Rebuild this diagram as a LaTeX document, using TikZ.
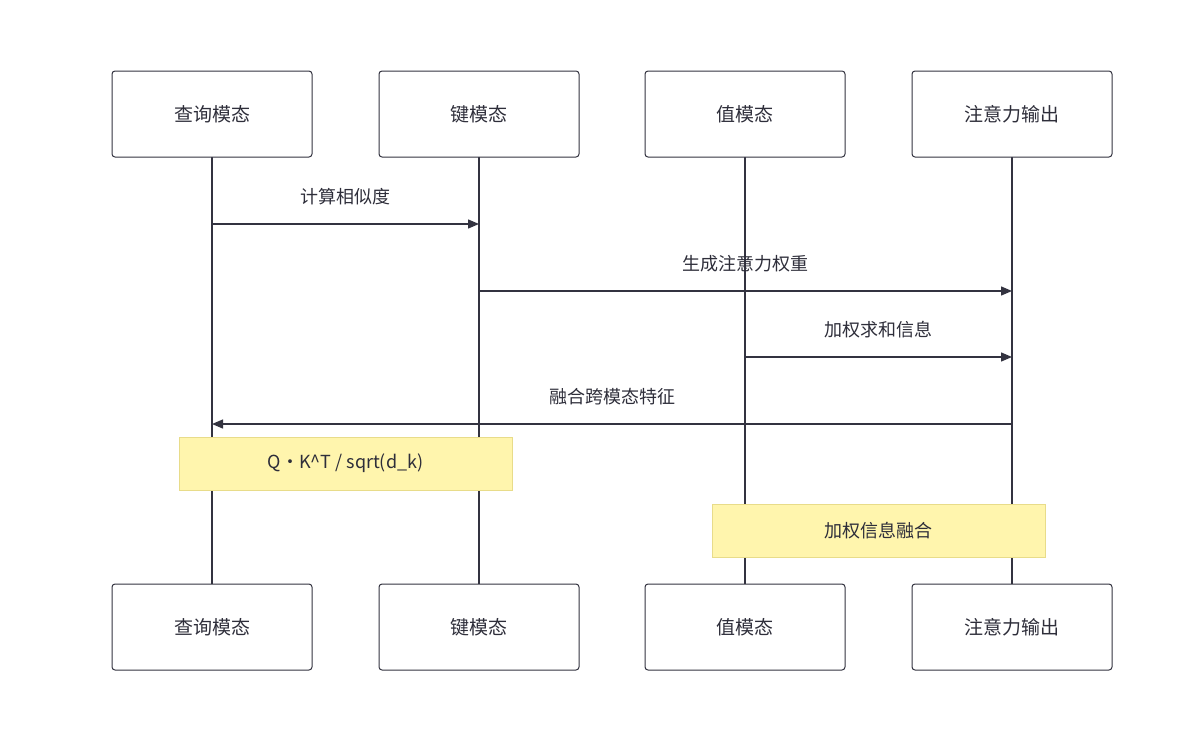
\documentclass[tikz,border=0pt]{standalone}
\usepackage{fontspec}
\setmainfont{Noto Sans CJK SC}
\usetikzlibrary{arrows.meta}
\definecolor{ln}{HTML}{333340}
\definecolor{notef}{HTML}{FFF5AD}
\definecolor{noted}{HTML}{E8DC8A}
\begin{document}
\begin{tikzpicture}[x=1pt,y=-1pt,
  actor/.style={draw=ln,fill=white,rounded corners=3pt,line width=1pt,minimum width=200pt,minimum height=86pt,font=\fontsize{19}{22}\selectfont,text=ln!90!black},
  life/.style={draw=ln,line width=1.5pt},
  msg/.style={draw=ln,line width=1.3pt,-{Triangle[length=11pt,width=9pt]}},
  lbl/.style={font=\fontsize{18}{21}\selectfont,text=ln!90!black},
  note/.style={draw=noted,fill=notef,line width=1pt,minimum width=333pt,minimum height=53pt,font=\fontsize{18}{21}\selectfont,text=ln!90!black}]
\useasboundingbox (0,0) rectangle (1200,737);
\foreach \n/\x/\t in {q/212/查询模态,k/479/键模态,v/745/值模态,o/1012/注意力输出}{
  \draw[life] (\x,157) -- (\x,584);
  \node[actor] (\n t) at (\x,114) {\t};
  \node[actor] (\n b) at (\x,627) {\t};
  \coordinate (\n1) at (\x,224);
  \coordinate (\n2) at (\x,291);
  \coordinate (\n3) at (\x,357);
  \coordinate (\n4) at (\x,424);
}
\draw[msg] (q1) -- (k1);
\node[lbl] (l1) at (345.5,197) {计算相似度};
\draw[msg] (k2) -- (o2);
\node[lbl] (l2) at (745.5,264) {生成注意力权重};
\draw[msg] (v3) -- (o3);
\node[lbl] (l3) at (878.5,330) {加权求和信息};
\draw[msg] (o4) -- (q4);
\node[lbl] (l4) at (612,397) {融合跨模态特征};
\node[note] (n1) at (345.5,463.5) {Q·K\^{}T / sqrt(d\_k)};
\node[note] (n2) at (878.5,530.5) {加权信息融合};
\end{tikzpicture}
\end{document}
